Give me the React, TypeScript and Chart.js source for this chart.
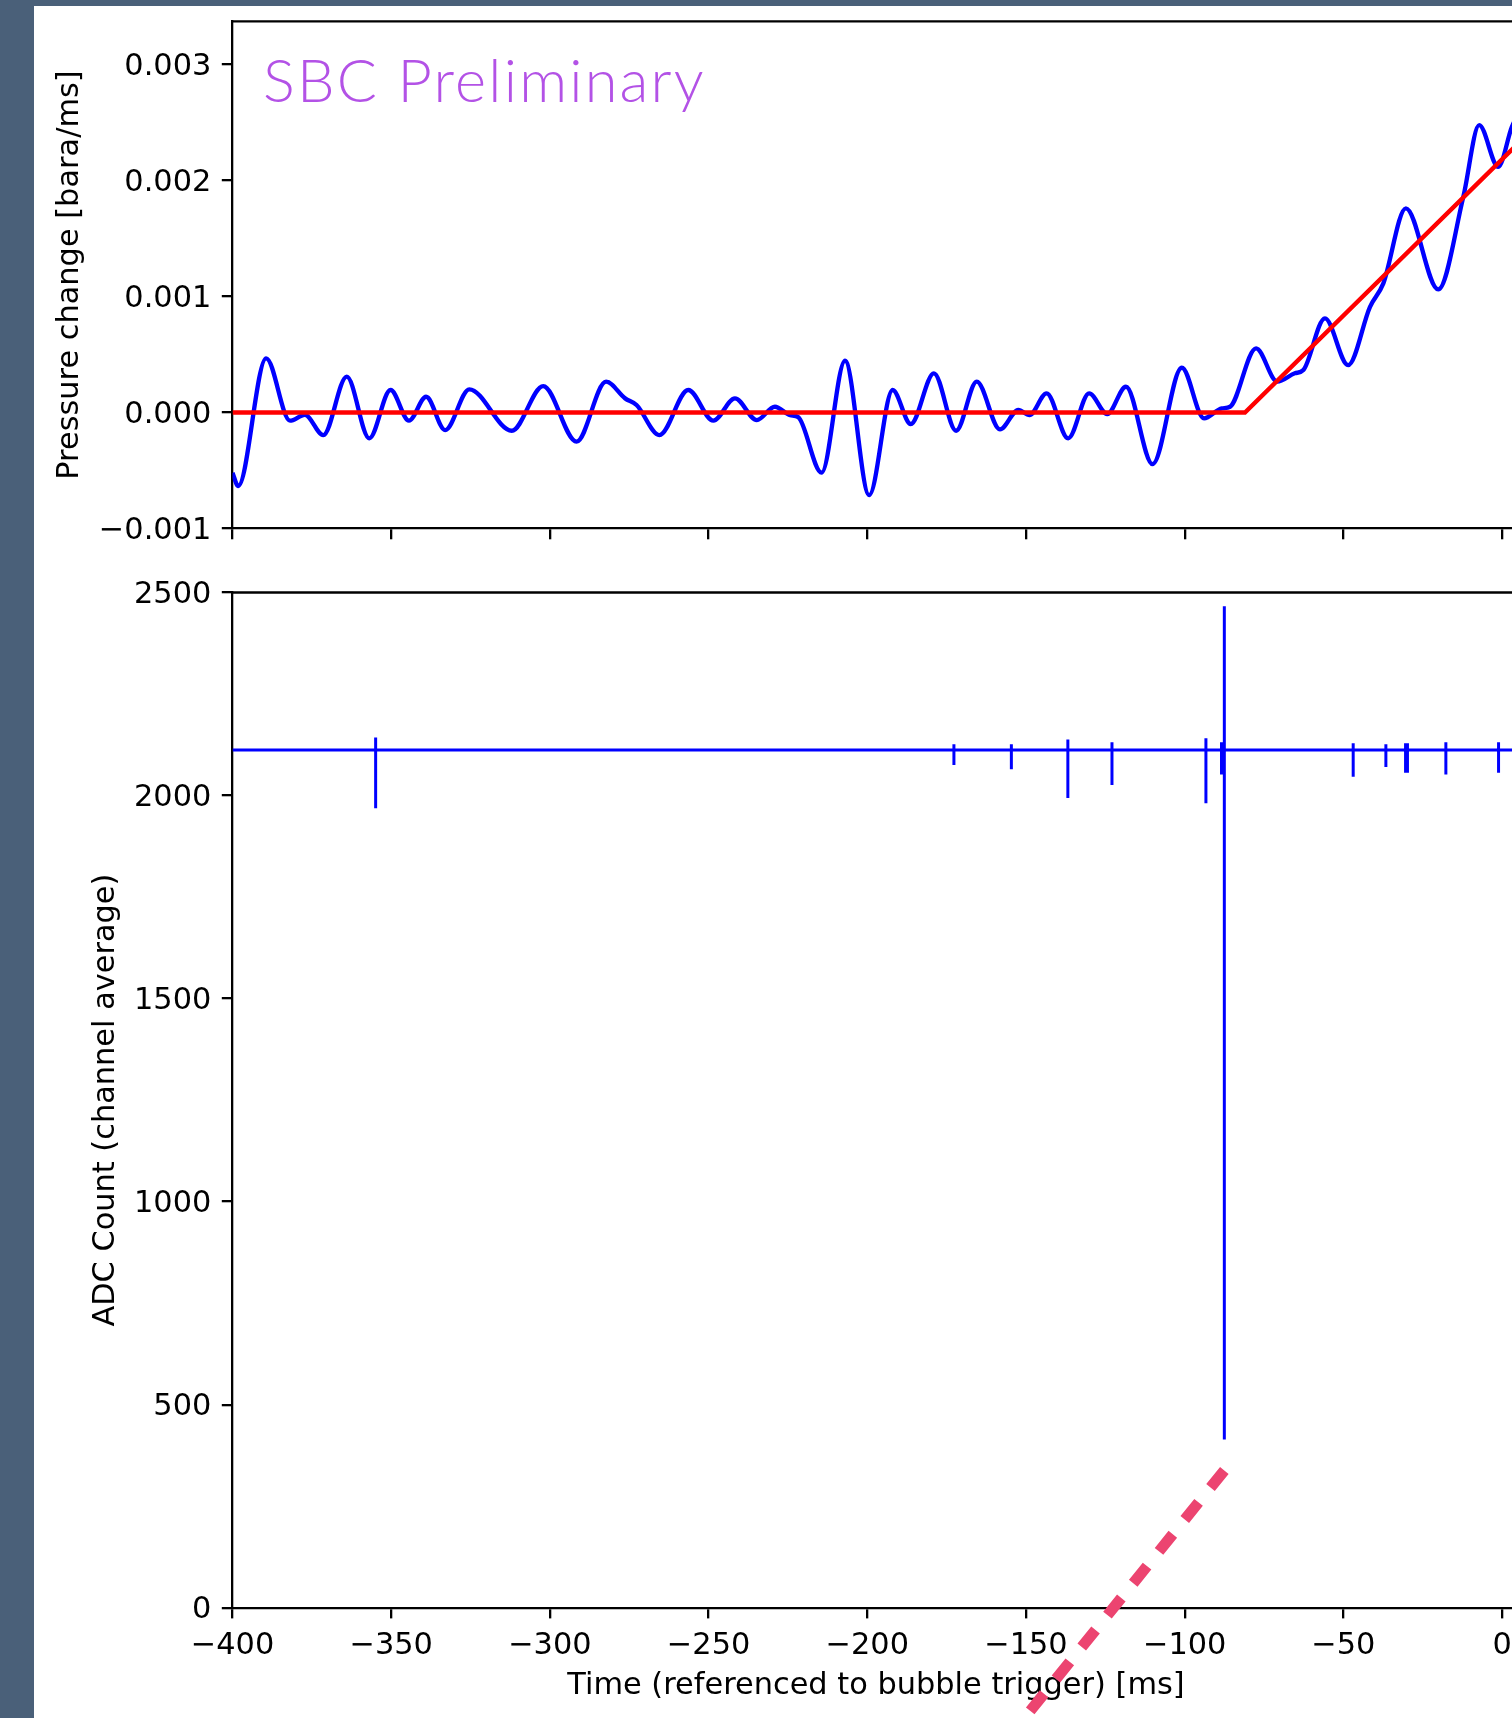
import React, { useEffect, useRef } from 'react';
import { Chart, registerables } from 'chart.js';

Chart.register(...registerables);

// ---------- data ----------
const timeTicks = [-400, -350, -300, -250, -200, -150, -100, -50, 0];
const pressureTicks = [-0.001, 0, 0.001, 0.002, 0.003];
const adcTicks = [0, 500, 1000, 1500, 2000, 2500];

const X_MIN = -400;
const X_MAX = 5.5;
const P_MIN = -0.001;
const P_MAX = 0.00337;
const ADC_MIN = 0;
const ADC_MAX = 2500;

// filtered pressure-rate waveform (bara/ms)
const pressureTime = [
  -400, -398.2, -389.4, -381.9, -377.2, -371.4, -364.0, -356.9, -350.2, -344.4,
  -339.0, -333.0, -325.4, -312.0, -302.1, -291.6, -282.3, -276.3, -272.7, -265.5,
  -256.4, -248.5, -241.7, -234.8, -229.1, -224.3, -221.7, -214.4, -207.0, -199.4,
  -192.0, -186.3, -179.0, -172.0, -165.5, -158.2, -152.4, -148.9, -143.5, -136.7,
  -130.1, -124.4, -118.5, -110.1, -100.9, -93.9, -88.3, -85.7, -77.5, -70.8,
  -65.3, -62.6, -55.8, -48.5, -41.6, -37.4, -30.3, -20.1, -12.2, -7.2,
  -1.2, 3.1, 5.5,
];
const pressureRate = [
  -0.00052, -0.000633, 0.000467, -0.00007, -0.00002, -0.000194, 0.000309, -0.000222, 0.000194, -0.00007,
  0.000136, -0.000151, 0.0002, -0.000157, 0.000228, -0.000251, 0.000266, 0.000122, 0.000065, -0.000194,
  0.000194, -0.00007, 0.000122, -0.000065, 0.00005, -0.000022, -0.000041, -0.000518, 0.000446, -0.000711,
  0.000194, -0.000099, 0.000338, -0.000157, 0.000266, -0.000145, 0.000022, -0.000022, 0.000165, -0.000222,
  0.000165, -0.000013, 0.000222, -0.000444, 0.000386, -0.00005, 0.000036, 0.00005, 0.000553, 0.000266,
  0.000338, 0.000366, 0.000811, 0.000409, 0.000911, 0.001113, 0.001759, 0.001061, 0.001859, 0.002476,
  0.002117, 0.002462, 0.0026,
];

// piecewise-linear fit (bara/ms)
const fitTime = [-400, -81.0, 5.5];
const fitRate = [0, 0, 0.00233];

// ADC trace: baseline with spikes
const adcBaseline = 2112;
const spikeTime = [-354.9, -172.7, -154.6, -136.8, -122.9, -93.3, -88.4, -87.5, -46.9, -36.6, -30.4, -29.8, -17.7, -1.1];
const spikeMax = [2143, 2126, 2126, 2138, 2131, 2141, 2131, 2466, 2129, 2126, 2129, 2129, 2131, 2131];
const spikeMin = [1969, 2075, 2065, 1994, 2026, 1981, 2052, 414, 2046, 2070, 2056, 2056, 2052, 2056];

// dashed annotation stroke (time, ADC)
const arrowTime = [-87.5, -156.5];
const arrowCount = [338, -330];

// ---------- helpers ----------
const MINUS = '\u2212';
const fmtPressure = (v: number) => {
  if (Math.abs(v) < 1e-12) return '0.000';
  return (v < 0 ? MINUS : '') + Math.abs(v).toFixed(3);
};
const fmtInt = (v: number) => (v < 0 ? MINUS : '') + String(Math.abs(Math.round(v)));

const TICK_FONT = { family: "'DejaVu Sans'", size: 30.4 };
const TITLE_FONT = { family: "'DejaVu Sans'", size: 30.4 };
const SPINE = 2.3;
const TICK_LEN = 10.7;

const framePlugin = {
  id: 'frameTop',
  afterDatasetsDraw(chart: any) {
    const { ctx, chartArea } = chart;
    ctx.save();
    ctx.strokeStyle = '#000';
    ctx.lineWidth = SPINE;
    ctx.beginPath();
    ctx.moveTo(chartArea.left - SPINE / 2, chartArea.top);
    ctx.lineTo(chartArea.right + 20, chartArea.top);
    ctx.stroke();
    ctx.restore();
  },
};

const gridOpts = {
  drawOnChartArea: false,
  drawTicks: true,
  tickLength: TICK_LEN,
  color: '#000',
  lineWidth: SPINE,
};
const borderOpts = { display: true, color: '#000', width: SPINE };

const fixVertical = (width: number) => (s: any) => {
  s.width = width;
  s.paddingTop = 0;
  s.paddingBottom = 0;
};
const fixHorizontal = (height: number) => (s: any) => {
  s.height = height;
  s.paddingLeft = 0;
  s.paddingRight = 0;
};

export default function App() {
  const topRef = useRef<HTMLCanvasElement>(null);
  const botRef = useRef<HTMLCanvasElement>(null);

  useEffect(() => {
    document.body.style.margin = '0';
    document.body.style.overflow = 'hidden';

    const topChart = new Chart(topRef.current as HTMLCanvasElement, {
      type: 'line',
      data: {
        datasets: [
          {
            data: fitTime.map((t, i) => ({ x: t, y: fitRate[i] })),
            borderColor: '#ff0000',
            borderWidth: 4.35,
            pointRadius: 0,
            tension: 0,
            order: 0,
          },
          {
            data: pressureTime.map((t, i) => ({ x: t, y: pressureRate[i] })),
            borderColor: '#0000ff',
            borderWidth: 4.35,
            pointRadius: 0,
            cubicInterpolationMode: 'monotone',
            order: 1,
          },
        ],
      } as any,
      options: {
        animation: false,
        responsive: false,
        maintainAspectRatio: false,
        events: [],
        layout: { padding: { top: 15.4, left: 0, right: 10.5, bottom: 0 } },
        plugins: { legend: { display: false }, tooltip: { enabled: false } },
        scales: {
          x: {
            type: 'linear',
            min: X_MIN,
            max: X_MAX,
            afterBuildTicks: (ax: any) => {
              ax.ticks = timeTicks.map((v) => ({ value: v }));
            },
            ticks: { display: false },
            grid: gridOpts,
            border: borderOpts,
            afterFit: fixHorizontal(17.4),
          },
          y: {
            type: 'linear',
            min: P_MIN,
            max: P_MAX,
            afterBuildTicks: (ax: any) => {
              ax.ticks = pressureTicks.map((v) => ({ value: v }));
            },
            ticks: {
              font: TICK_FONT,
              color: '#000',
              padding: 10.5,
              labelOffset: 2.3,
              callback: (v: any) => fmtPressure(Number(v)),
            },
            grid: gridOpts,
            border: borderOpts,
            title: {
              display: true,
              text: 'Pressure change [bara/ms]',
              font: TITLE_FONT,
              color: '#000',
              padding: { top: 17.8, bottom: 0 },
            },
            afterFit: fixVertical(198.5),
          },
        },
      } as any,
      plugins: [framePlugin],
    });

    const adcPoints: { x: number; y: number }[] = [{ x: X_MIN, y: adcBaseline }];
    spikeTime.forEach((t, i) => {
      adcPoints.push(
        { x: t, y: adcBaseline },
        { x: t, y: spikeMax[i] },
        { x: t, y: spikeMin[i] },
        { x: t, y: adcBaseline },
      );
    });
    adcPoints.push({ x: X_MAX, y: adcBaseline });

    const botChart = new Chart(botRef.current as HTMLCanvasElement, {
      type: 'line',
      data: {
        datasets: [
          {
            data: adcPoints,
            borderColor: '#0000ff',
            borderWidth: 3,
            pointRadius: 0,
            tension: 0,
            order: 1,
          },
          {
            data: arrowTime.map((t, i) => ({ x: t, y: arrowCount[i] })),
            borderColor: '#ec4470',
            borderWidth: 11,
            borderDash: [22, 19],
            pointRadius: 0,
            tension: 0,
            clip: false,
            order: 0,
          },
        ],
      } as any,
      options: {
        animation: false,
        responsive: false,
        maintainAspectRatio: false,
        events: [],
        layout: { padding: { top: 46.5, left: 0, right: 10.5, bottom: 0 } },
        plugins: { legend: { display: false }, tooltip: { enabled: false } },
        scales: {
          x: {
            type: 'linear',
            min: X_MIN,
            max: X_MAX,
            afterBuildTicks: (ax: any) => {
              ax.ticks = timeTicks.map((v) => ({ value: v }));
            },
            ticks: {
              font: TICK_FONT,
              color: '#000',
              padding: 9.5,
              maxRotation: 0,
              autoSkip: false,
              callback: (v: any) => fmtInt(Number(v)),
            },
            grid: gridOpts,
            border: borderOpts,
            title: {
              display: true,
              text: 'Time (referenced to bubble trigger) [ms]',
              font: TITLE_FONT,
              color: '#000',
              padding: { top: 0, bottom: 13.5 },
            },
            afterFit: fixHorizontal(110.3),
          },
          y: {
            type: 'linear',
            min: ADC_MIN,
            max: ADC_MAX,
            afterBuildTicks: (ax: any) => {
              ax.ticks = adcTicks.map((v) => ({ value: v }));
            },
            ticks: {
              font: TICK_FONT,
              color: '#000',
              padding: 10.5,
              labelOffset: 2.7,
              callback: (v: any) => fmtInt(Number(v)),
            },
            grid: gridOpts,
            border: borderOpts,
            title: {
              display: true,
              text: 'ADC Count (channel average)',
              font: TITLE_FONT,
              color: '#000',
              padding: { top: 53.8, bottom: 0 },
            },
            afterFit: fixVertical(198.5),
          },
        },
      } as any,
      plugins: [framePlugin],
    });

    return () => {
      topChart.destroy();
      botChart.destroy();
    };
  }, []);

  return (
    <div
      style={{
        position: 'relative',
        width: 1512,
        height: 1718,
        overflow: 'hidden',
        background: '#4a6079',
      }}
    >
      <div
        style={{
          position: 'absolute',
          left: 34,
          top: 6,
          width: 1478,
          height: 1712,
          background: '#ffffff',
        }}
      />
      <canvas
        ref={topRef}
        width={1496}
        height={540}
        style={{ position: 'absolute', left: 34, top: 6, width: 1496, height: 540 }}
      />
      <canvas
        ref={botRef}
        width={1496}
        height={1172}
        style={{ position: 'absolute', left: 34, top: 546, width: 1496, height: 1172 }}
      />
      <div
        style={{
          position: 'absolute',
          left: 263,
          top: 50,
          fontFamily: 'Lato',
          fontWeight: 300,
          fontSize: 59.5,
          lineHeight: '59.5px',
          letterSpacing: '2.2px',
          color: '#b352e6',
          whiteSpace: 'nowrap',
        }}
      >
        SBC Preliminary
      </div>
    </div>
  );
}
